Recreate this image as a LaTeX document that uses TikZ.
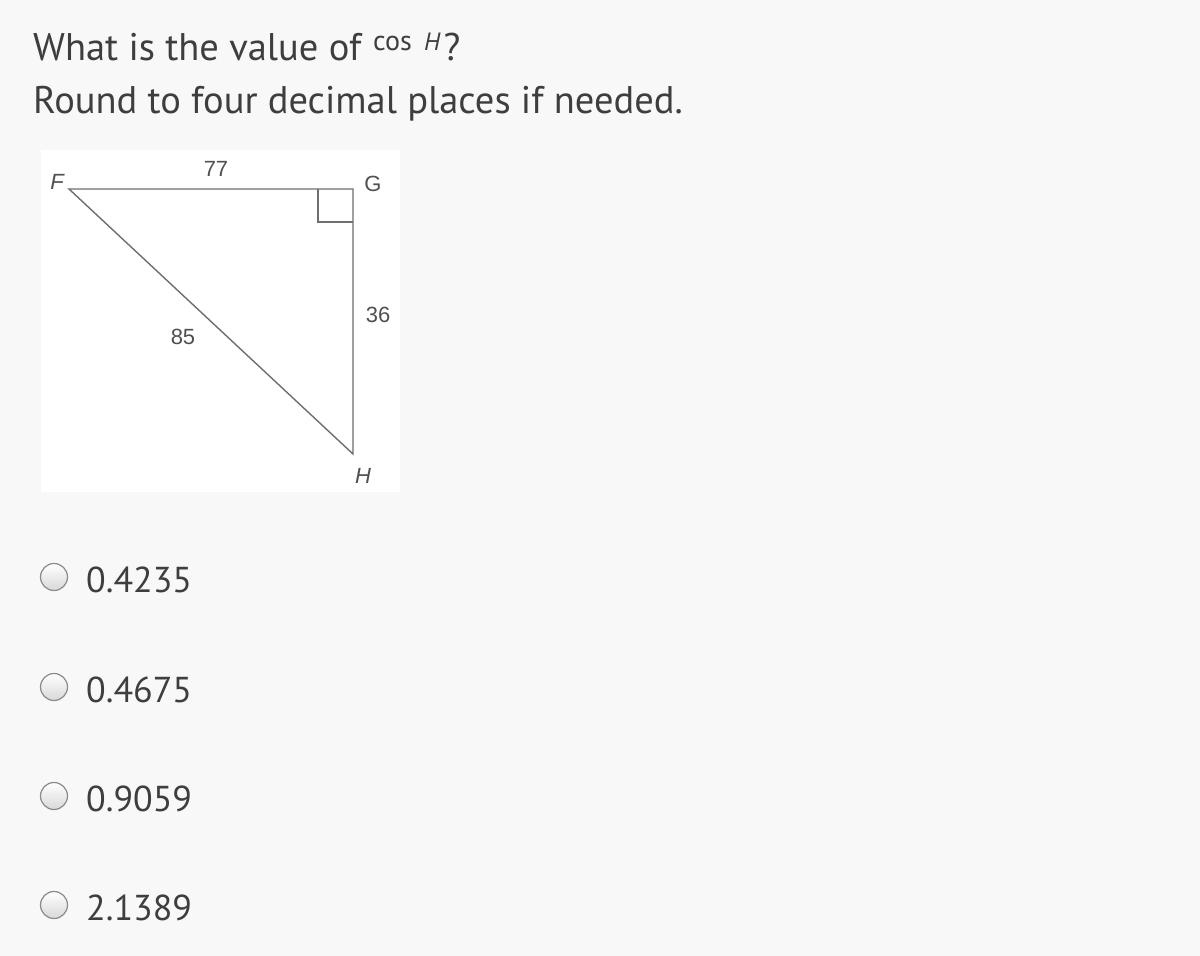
\documentclass[tikz,border=0pt]{standalone}
\usepackage{fontspec}
\setmainfont{PT Sans}
\newfontfamily\lab{Liberation Sans}
\begin{document}
\begin{tikzpicture}[x=1pt,y=-1pt,
  qtext/.style={anchor=base west,inner sep=0pt,text=txt,font=\fontsize{38.5}{46}\selectfont},
  otext/.style={anchor=base west,inner sep=0pt,text=txt,font=\fontsize{36}{44}\selectfont},
  small/.style={anchor=base west,inner sep=0pt,text=txt,font=\fontsize{28}{32}\selectfont},
  lbl/.style={inner sep=0pt,text=lbltxt,font=\lab\fontsize{22}{26}\selectfont},
  ilbl/.style={lbl,font=\lab\itshape\fontsize{22}{26}\selectfont},
  side/.style={draw=linegray,line width=1.4pt},
  radio/.style={circle,minimum size=27pt,inner sep=0pt,draw=radioedge,line width=1.2pt,top color=white,bottom color=radiofill}]
\definecolor{bg}{HTML}{F8F8F8}
\definecolor{txt}{HTML}{3E3E3E}
\definecolor{lbltxt}{HTML}{505050}
\definecolor{linegray}{HTML}{6E6E6E}
\definecolor{radioedge}{HTML}{8A8A8A}
\definecolor{radiofill}{HTML}{D8D8D8}
\fill[bg] (0,0) rectangle (1200,956);
\useasboundingbox (0,0) rectangle (1200,956);
% question
\node[qtext] (q1) at (33,60) {What is the value of};
\node[small] (cos) at (373,50) {cos};
\node[small,font=\fontsize{25}{30}\selectfont\itshape] (hh) at (424,50) {H};
\node[qtext] (qm) at ([xshift=3pt]hh.base east |- q1.base) {?};
\node[qtext] (q2) at (33,113) {Round to four decimal places if needed.};
% figure box
\fill[white] (41,150) rectangle (400,492);
\coordinate (F) at (69,189);
\coordinate (G) at (353,189);
\coordinate (H) at (353,454);
\draw[side] (F) -- (G) -- (H) -- cycle;
\draw[side] (318,189) -- (318,222) -- (353,222);
\node[ilbl] (lF) at (57,182) {F};
\node[lbl] (l77) at (216,169) {77};
\node[lbl] (lG) at (373,184) {G};
\node[lbl] (l36) at (378,315) {36};
\node[lbl] (l85) at (183,337) {85};
\node[ilbl] (lH) at (363,476) {H};
% options
\node[radio] (r1) at (54,577) {};
\node[radio] (r2) at (54,687) {};
\node[radio] (r3) at (54,796) {};
\node[radio] (r4) at (54,905) {};
\node[otext] (o1) at (86,592) {0.4235};
\node[otext] (o2) at (86,702) {0.4675};
\node[otext] (o3) at (86,811) {0.9059};
\node[otext] (o4) at (86,920) {2.1389};
\end{tikzpicture}
\end{document}
